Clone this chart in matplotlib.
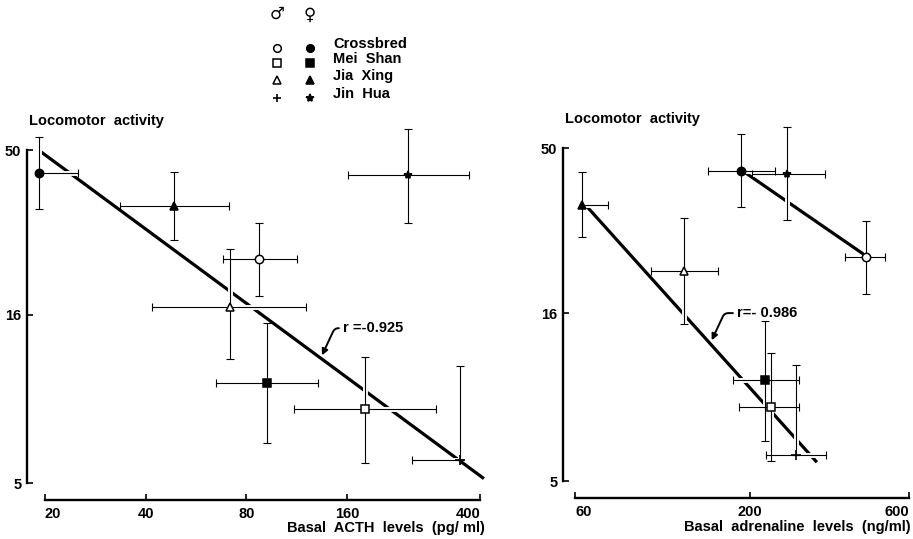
import numpy as np
import matplotlib
matplotlib.use("Agg")
import matplotlib.pyplot as plt

plt.rcParams['font.family'] = ['Liberation Sans', 'DejaVu Sans']
plt.rcParams['font.weight'] = 'bold'

# groups (legend order)
groups = ["Crossbred", "Mei Shan", "Jia Xing", "Jin Hua"]
male_markers = ["o", "s", "^", "+"]
female_markers = ["o", "s", "^", "*"]

# ---- left panel: basal ACTH (pg/ml) vs locomotor activity ----
acth_ticks = [20, 40, 80, 160, 400]
acth_m_x = [87.5, 180.9, 71.3, 347]
acth_m_y = [23.5, 8.35, 16.9, 5.87]
acth_m_xlo = [68.2, 110.8, 41.7, 250]
acth_m_xhi = [113, 295, 121, 347]
acth_m_ylo = [18.3, 5.75, 11.8, 5.87]
acth_m_yhi = [30.2, 12.0, 25.2, 11.25]

acth_f_x = [19.2, 92.3, 48.6, 243.7]
acth_f_y = [42.7, 10.0, 33.9, 42.0]
acth_f_xlo = [19.2, 65, 33.6, 160.8]
acth_f_xhi = [25.1, 130.9, 71.1, 370]
acth_f_ylo = [33.2, 6.6, 26.9, 30.3]
acth_f_yhi = [54.8, 15.1, 42.9, 57.8]

acth_fit_x = [19.5, 410]
acth_fit_y = [49.4, 5.16]
acth_r = "r =-0.925"

# ---- right panel: basal adrenaline (ng/ml) vs locomotor activity ----
adr_ticks = [60, 200, 600]
adr_m_x = [446, 232.4, 127.5, 274.9]
adr_m_y = [23.6, 8.35, 21.4, 6.01]
adr_m_xlo = [386, 186, 101.3, 224]
adr_m_xhi = [509, 281.8, 160.5, 338]
adr_m_ylo = [18.3, 5.73, 14.8, 6.01]
adr_m_yhi = [30.3, 12.1, 30.8, 11.2]

adr_f_x = [188.9, 222.9, 62.8, 259.4]
adr_f_y = [42.9, 10.1, 33.9, 42.0]
adr_f_xlo = [150.4, 178, 62.8, 203]
adr_f_xhi = [238, 281.8, 75.3, 336]
adr_f_ylo = [33.3, 6.6, 27.1, 30.5]
adr_f_yhi = [55.2, 15.1, 42.6, 58.0]

adr_fit1_x = [65, 318]
adr_fit1_y = [33.5, 5.7]
adr_fit2_x = [194, 443]
adr_fit2_y = [42.3, 23.9]
adr_r = "r=- 0.986"

y_ticks = [5, 16, 50]

W, H = 913, 539
fig = plt.figure(figsize=(W / 100, H / 100), dpi=100)


def px_axes(x0, y0, x1, y1):
    # pixel box (top-left origin) -> figure axes
    return fig.add_axes([x0 / W, 1 - y1 / H, (x1 - x0) / W, (y1 - y0) / H])


def draw_points(ax, xs, ys, xlo, xhi, ylo, yhi, markers, filled):
    for i in range(len(xs)):
        xerr = [[xs[i] - xlo[i]], [xhi[i] - xs[i]]]
        yerr = [[ys[i] - ylo[i]], [yhi[i] - ys[i]]]
        # white halo under the bars breaks the regression line where they cross
        ax.errorbar(xs[i], ys[i], xerr=xerr, yerr=yerr, fmt="none",
                    ecolor="white", elinewidth=3.5, capsize=0, zorder=2.5)
        ax.errorbar(xs[i], ys[i], xerr=xerr, yerr=yerr, fmt="none",
                    ecolor="black", elinewidth=0.8, capsize=3, capthick=0.8,
                    zorder=3)
        m = markers[i]
        size = {"o": 6, "s": 5.5, "^": 6, "+": 7, "*": 6}[m]
        if m in ("+", "*"):
            ax.plot(xs[i], ys[i], marker=m, color="black", ms=size,
                    mew=1.2, linestyle="none", zorder=4)
        else:
            ax.plot(xs[i], ys[i], marker=m, ms=size, mec="black", mew=1.1,
                    mfc="black" if filled else "white",
                    linestyle="none", zorder=4)


def style_axes(ax, xticks, xlim, ylim, title_y):
    ax.set_xscale("log")
    ax.set_yscale("log")
    ax.set_xlim(*xlim)
    ax.set_ylim(*ylim)
    for s in ("top", "right"):
        ax.spines[s].set_visible(False)
    ax.spines["left"].set_bounds(5, 50)
    ax.spines["bottom"].set_bounds(xticks[0], xticks[-1])
    ax.spines["left"].set_linewidth(1.7)
    ax.spines["bottom"].set_linewidth(1.7)
    ax.set_yticks(y_ticks)
    ax.set_yticklabels([str(t) for t in y_ticks])
    ax.set_xticks(xticks)
    ax.set_xticklabels([str(t) for t in xticks])
    ax.minorticks_off()
    ax.tick_params(axis="y", direction="in", length=4, width=1.2, pad=4,
                   labelsize=10.5)
    ax.tick_params(axis="x", direction="in", length=4, width=1.2, pad=5,
                   labelsize=10.5)
    for lab in ax.get_xticklabels() + ax.get_yticklabels():
        lab.set_fontweight("bold")
    xl = ax.get_xticklabels()
    xl[0].set_horizontalalignment("left")
    xl[-1].set_horizontalalignment("right")
    ax.patch.set_visible(False)
    ax.text(0.005, title_y, "Locomotor  activity", transform=ax.transAxes,
            fontsize=10.5, fontweight="bold", ha="left", va="center")


arrow_kw = dict(arrowstyle="-|>", color="black", lw=1.4, mutation_scale=9,
                shrinkA=1, shrinkB=0,
                connectionstyle="angle,angleA=0,angleB=65,rad=4")

# left panel
axL = px_axes(27, 120, 485, 500)
style_axes(axL, acth_ticks, (17.7, 413), (4.45, 61.6), 0.997)
axL.plot(acth_fit_x, acth_fit_y, color="black", lw=2.3, zorder=2,
         solid_capstyle="butt")
draw_points(axL, acth_m_x, acth_m_y, acth_m_xlo, acth_m_xhi,
            acth_m_ylo, acth_m_yhi, male_markers, False)
draw_points(axL, acth_f_x, acth_f_y, acth_f_xlo, acth_f_xhi,
            acth_f_ylo, acth_f_yhi, female_markers, True)
axL.annotate(acth_r, xy=(134.6, 12.1), xytext=(155.6, 14.6),
             fontsize=10.5, fontweight="bold", ha="left", va="center",
             arrowprops=arrow_kw)
axL.text(1.0, -0.073, "Basal  ACTH  levels  (pg/ ml)", transform=axL.transAxes,
         fontsize=10.5, fontweight="bold", ha="right", va="center")

# right panel
axR = px_axes(563, 120, 912, 498)
style_axes(axR, adr_ticks, (55.2, 613), (4.45, 60.9), 1.003)
axR.plot(adr_fit1_x, adr_fit1_y, color="black", lw=2.3, zorder=2,
         solid_capstyle="butt")
axR.plot(adr_fit2_x, adr_fit2_y, color="black", lw=2.3, zorder=2,
         solid_capstyle="butt")
draw_points(axR, adr_m_x, adr_m_y, adr_m_xlo, adr_m_xhi,
            adr_m_ylo, adr_m_yhi, male_markers, False)
draw_points(axR, adr_f_x, adr_f_y, adr_f_xlo, adr_f_xhi,
            adr_f_ylo, adr_f_yhi, female_markers, True)
axR.annotate(adr_r, xy=(154, 13.26), xytext=(183.4, 16.0),
             fontsize=10.5, fontweight="bold", ha="left", va="center",
             arrowprops=arrow_kw)
axR.text(0.995, -0.078, "Basal  adrenaline  levels  (ng/ml)",
         transform=axR.transAxes, fontsize=10.5, fontweight="bold",
         ha="right", va="center")

# legend block at the top
axG = px_axes(255, 0, 460, 108)
axG.set_xlim(255, 460)
axG.set_ylim(108, 0)
axG.axis("off")
col_x = [277, 310]
row_y = [48, 63, 80, 98]
axG.text(col_x[0], 14, "\u2642", fontsize=12, ha="center", va="center",
         family=["DejaVu Sans"])
axG.text(col_x[1], 15, "\u2640", fontsize=12, ha="center", va="center",
         family=["DejaVu Sans"])
for i, g in enumerate(groups):
    for j, (mk, filled) in enumerate([(male_markers[i], False),
                                      (female_markers[i], True)]):
        if mk in ("+", "*"):
            axG.plot(col_x[j], row_y[i], marker=mk, color="black", ms=6,
                     mew=1.2, linestyle="none")
        else:
            axG.plot(col_x[j], row_y[i], marker=mk, ms=5.5, mec="black",
                     mew=1.1, mfc="black" if filled else "white",
                     linestyle="none")
    axG.text(333, row_y[i] - 4, g.replace(" ", "  "), fontsize=10.5,
             fontweight="bold", ha="left", va="center")

fig.savefig("out.png", dpi=100)
